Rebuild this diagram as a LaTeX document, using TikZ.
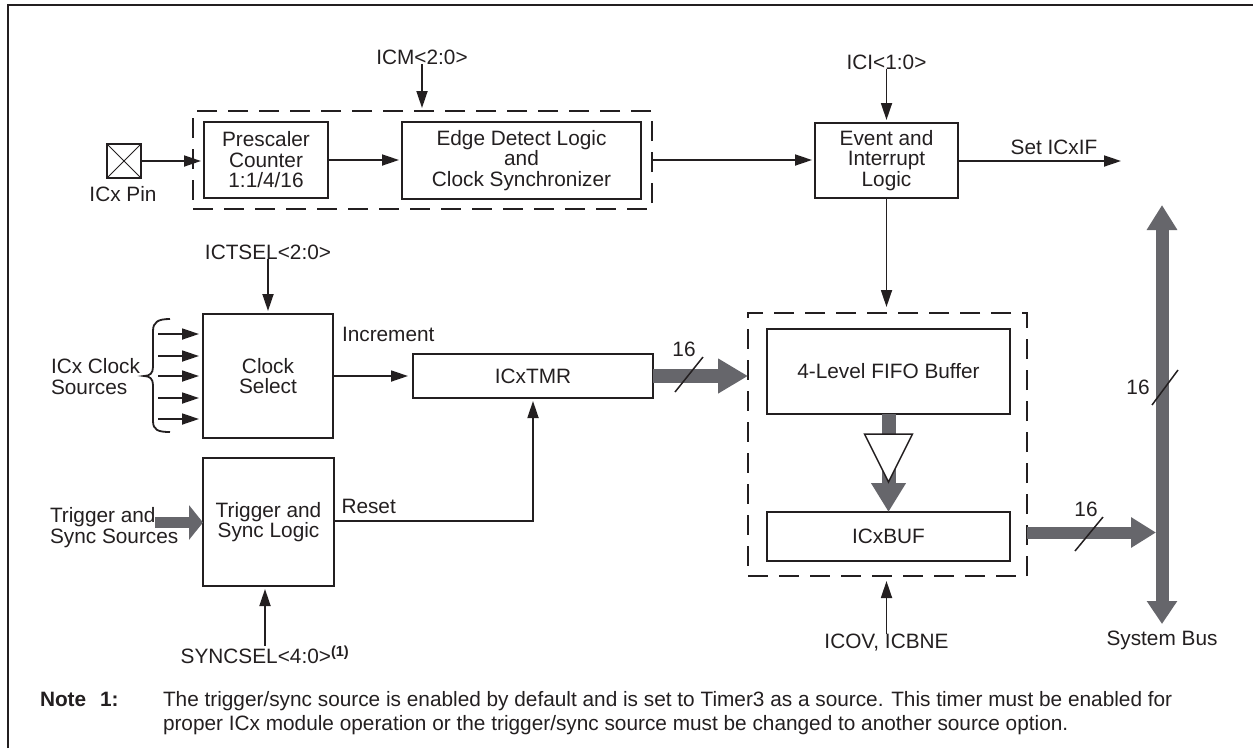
\documentclass[tikz,border=0pt]{standalone}
\usepackage{fontspec}
\setmainfont{Liberation Sans}
\usetikzlibrary{arrows.meta}
\definecolor{busgray}{RGB}{102,102,107}
\definecolor{ink}{RGB}{35,31,32}
\begin{document}
\begin{tikzpicture}[x=1pt,y=-1pt,
  every node/.style={font=\fontsize{20.8}{20.5}\selectfont, text=ink, inner sep=0pt, outer sep=0pt},
  blk/.style={draw=ink, line width=1.8pt, align=center},
  lbl/.style={align=center},
  sig/.style={draw=ink, line width=1.8pt, shorten >=3pt, -{Triangle[length=17pt,width=11pt]}},
  dbox/.style={draw=ink, line width=1.8pt, dash pattern=on 20pt off 11pt},
  fat/.style={draw=busgray, line width=14pt},
  slash/.style={draw=ink, line width=1.5pt},
]
\useasboundingbox (0,0) rectangle (1253,748);
% outer frame (only top and left visible)
\draw[ink, line width=2.2pt] (8,748) -- (8,5) -- (1253,5);

% dashed groups
\node[dbox, minimum width=459pt, minimum height=98pt] (dA) at (422.5,160) {};
\node[dbox, minimum width=279pt, minimum height=263pt] (dB) at (887.5,444.5) {};

% pin
\node[draw=ink, line width=1.8pt, minimum width=34pt, minimum height=34pt] (pin) at (124,161) {};
\draw[ink, line width=1pt] (pin.north west) -- (pin.south east) (pin.north east) -- (pin.south west);
\node (pinl) at (123,194) {ICx Pin};

% blocks
\node[blk, minimum width=124pt, minimum height=76pt] (pre) at (266,160) {Prescaler\\Counter\\1:1/4/16};
\node[blk, minimum width=239pt, minimum height=77pt] (edge) at (521.5,160.5) {Edge Detect Logic\\and\\Clock Synchronizer};
\node[blk, minimum width=143pt, minimum height=75pt] (ev) at (886.5,160.5) {Event and\\Interrupt\\Logic};
\node[blk, minimum width=243pt, minimum height=85pt] (fifo) at (888.5,371.5) {4-Level FIFO Buffer};
\node[blk, minimum width=243pt, minimum height=49pt] (buf) at (888.5,536.5) {ICxBUF};
\node[blk, minimum width=240pt, minimum height=44pt] (tmr) at (533,376) {ICxTMR};
\node[blk, minimum width=130pt, minimum height=124pt] (cs) at (268,376) {Clock\\Select};
\node[blk, minimum width=131pt, minimum height=128pt] (trg) at (268.5,522) {Trigger and\\Sync Logic};

% control labels
\node (icm) at (422,57) {ICM<2:0>};
\node (ici) at (886.5,62) {ICI<1:0>};
\node (icts) at (268,252) {ICTSEL<2:0>};
\node (sync) at (265,655) {SYNCSEL<4:0>\textsuperscript{\bfseries(1)}};
\node (icov) at (886.5,643) {ICOV, ICBNE};
\node (sbus) at (1162,640) {System Bus};
\node (setl) at (1054,147) {Set ICxIF};
\node[anchor=west] (incl) at (342,334) {Increment};
\node[anchor=west] (rstl) at (341.5,506) {Reset};
\node[anchor=west, align=left] (ccs) at (51,376.5) {ICx Clock\\Sources};
\node[anchor=west, align=left] (tss) at (50,527.5) {Trigger and\\Sync Sources};

% signal arrows
\draw[sig] (icm) -- (icm |- dA.north);
\draw[sig] (ici) -- (ici |- ev.north);
\draw[sig] (icts) -- (icts |- cs.north);
\draw[sig] (sync) -- (sync |- trg.south);
\draw[sig, shorten >=5pt] (icov) -- (icov |- dB.south);
\draw[sig] (pin.east) -- (pin.east -| pre.west);
\draw[sig] (pre.east) -- (pre.east -| edge.west);
\draw[sig] (dA.east) -- (dA.east -| ev.west);
\coordinate (setE) at (1121,161);
\draw[sig, shorten >=0pt] (ev.east |- setE) -- (setE);
\draw[sig, shorten >=6pt] (ev.south) -- (ev.south |- dB.north);
\draw[sig, shorten >=5pt] (cs) -- (tmr);
\coordinate (rst) at (533,521);
\draw[sig] (trg.east |- rst) -- (rst) -- (tmr.south);

% clock source arrows and brace
\foreach \k/\yy in {1/334,2/356,3/376,4/398,5/419}{
  \coordinate (src\k) at (158,\yy);
  \draw[sig, shorten >=4pt] (src\k) -- (src\k -| cs.west);
}
\draw[ink, line width=1.8pt] (170,319) .. controls (158,319) and (153,322) .. (153,331) -- (153,367)
  .. controls (153,373) and (150,376) .. (144,376)
  .. controls (150,376) and (153,379) .. (153,385) -- (153,421)
  .. controls (153,430) and (158,432) .. (170,432);

% wide (bus) arrows
\coordinate (tssE) at (155,522.5);
\draw[fat, line width=11pt, -{Triangle[length=14pt,width=34pt]}] (tssE) -- (tssE -| trg.west);
\draw[fat, -{Triangle[length=30pt,width=33pt]}] (tmr.east) -- (tmr.east -| dB.west);
\draw[fat, -{Triangle[length=29pt,width=33pt]}] (fifo.south) -- (buf.north);
\draw[ink, fill=white, line width=1.5pt] (864.5,434) -- (912.5,434) -- (888.5,482) -- cycle;
\coordinate (busT) at (1162,205);
\coordinate (busB) at (1162,624);
\draw[fat, line width=13pt, {Triangle[length=25pt,width=29pt]}-{Triangle[length=23pt,width=29pt]}] (busT) -- (busB);
\coordinate (busIn) at (1156,532.5);
\draw[fat, line width=12pt, -{Triangle[length=25pt,width=29pt]}] (busIn -| dB.east) -- (busIn);

% bus widths
\draw[slash] (675,392) -- (703,357);
\node (w1) at (684,349) {16};
\draw[slash] (1075,551) -- (1103,517);
\node (w2) at (1086,509) {16};
\draw[slash] (1152,405) -- (1178,370);
\node (w3) at (1138,387) {16};

% note
\node[anchor=base west, font=\fontsize{20.8}{24}\selectfont\bfseries] (nt) at (40,706.5) {Note};
\node[anchor=base west, font=\fontsize{20.8}{24}\selectfont\bfseries] (nn) at (100,706.5) {1:};
\node[anchor=base west] (n1) at (163,706.5) {The trigger/sync source is enabled by default and is set to Timer3 as a source. This timer must be enabled for};
\node[anchor=base west] (n2) at (163,730.5) {proper ICx module operation or the trigger/sync source must be changed to another source option.};
\end{tikzpicture}
\end{document}
